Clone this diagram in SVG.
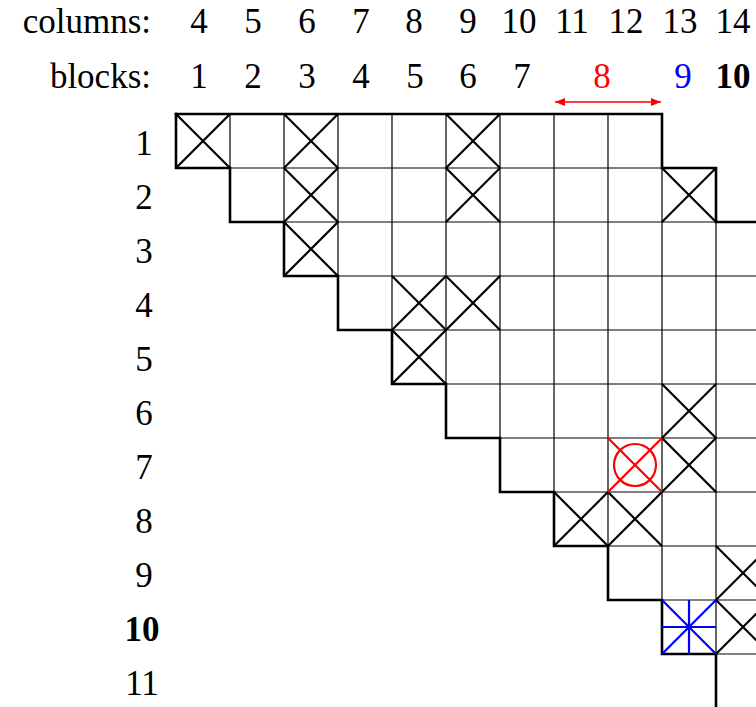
<svg xmlns="http://www.w3.org/2000/svg" width="756" height="707" viewBox="0 0 756 707">
<style>
text{font-family:"Liberation Serif","Times New Roman",serif;font-size:35px;fill:#000}
.m{text-anchor:middle}
.e{text-anchor:end}
.b{font-weight:bold}
.grid{fill:none;stroke:#000;stroke-width:1.2}
.bd{fill:none;stroke:#000;stroke-width:2.6;stroke-linejoin:miter;stroke-linecap:square}
.x{stroke:#000;stroke-width:2.2;fill:none}
</style>
<defs>
<path id="X" d="M0,0 L54,54 M54,0 L0,54"/>
<marker id="ah" viewBox="0 0 10 8" refX="10" refY="4" markerWidth="10" markerHeight="8" markerUnits="userSpaceOnUse" orient="auto-start-reverse">
<path d="M0,0 L10,4 L0,8 z" fill="#f00"/>
</marker>
</defs>
<g id="labels">
<text class="e" x="151" y="33">columns:</text>
<text class="m" x="199" y="33">4</text>
<text class="m" x="253" y="33">5</text>
<text class="m" x="307" y="33">6</text>
<text class="m" x="361" y="33">7</text>
<text class="m" x="414" y="33">8</text>
<text class="m" x="468" y="33">9</text>
<text class="m" x="519" y="33">10</text>
<text class="m" x="572" y="33">11</text>
<text class="m" x="626" y="33">12</text>
<text class="m" x="680" y="33">13</text>
<text class="m" x="733" y="33">14</text>
<text class="e" x="151" y="88">blocks:</text>
<text class="m" x="199" y="88">1</text>
<text class="m" x="253" y="88">2</text>
<text class="m" x="307" y="88">3</text>
<text class="m" x="361" y="88">4</text>
<text class="m" x="415" y="88">5</text>
<text class="m" x="468" y="88">6</text>
<text class="m" x="522" y="88">7</text>
<text class="m" x="602" y="88" fill="#f00" style="fill:#f00">8</text>
<text class="m" x="683" y="88" style="fill:#00f">9</text>
<text class="m b" x="733" y="88">10</text>
</g>
<g id="rowlabels">
<text class="m" x="144" y="155">1</text>
<text class="m" x="144" y="209">2</text>
<text class="m" x="144" y="263">3</text>
<text class="m" x="144" y="317">4</text>
<text class="m" x="144" y="371">5</text>
<text class="m" x="144" y="425">6</text>
<text class="m" x="144" y="479">7</text>
<text class="m" x="144" y="533">8</text>
<text class="m" x="144" y="587">9</text>
<text class="m b" x="142" y="641">10</text>
<text class="m" x="142" y="695">11</text>
</g>
<g id="matrix">
<path class="grid" d="M176,168H716 M230,222H756 M284,276H756 M338,330H756 M392,384H756 M446,438H756 M500,492H756 M554,546H756 M608,600H756 M662,654H756 M716,708H756
M230,114V222 M284,114V276 M338,114V330 M392,114V384 M446,114V438 M500,114V492 M554,114V546 M608,114V600 M662,114V654 M716,168V708"/>
<path class="bd" d="M176,114H662V168H716V222H758"/>
<path class="bd" d="M176,114V168H230V222H284V276H338V330H392V384H446V438H500V492H554V546H608V600H662V654H716V710"/>
</g>
<g id="marks" class="x">
<use href="#X" x="176" y="114"/>
<use href="#X" x="284" y="114"/>
<use href="#X" x="446" y="114"/>
<use href="#X" x="284" y="168"/>
<use href="#X" x="446" y="168"/>
<use href="#X" x="662" y="168"/>
<use href="#X" x="284" y="222"/>
<use href="#X" x="392" y="276"/>
<use href="#X" x="446" y="276"/>
<use href="#X" x="392" y="330"/>
<use href="#X" x="662" y="384"/>
<use href="#X" x="662" y="438"/>
<use href="#X" x="554" y="492"/>
<use href="#X" x="608" y="492"/>
<use href="#X" x="716" y="546"/>
<use href="#X" x="716" y="600"/>
</g>
<g id="red-mark" style="stroke:#f00;stroke-width:2.2;fill:none">
<path d="M608,438L662,492M662,438L608,492"/>
<circle cx="635" cy="465" r="21"/>
</g>
<g id="blue-mark" style="stroke:#00f;stroke-width:2.2;fill:none">
<path d="M662,600L716,654M716,600L662,654M689,600V654M662,627H716"/>
</g>
<g id="connectors">
<line x1="555" y1="102" x2="661" y2="102" stroke="#f00" stroke-width="1.6" marker-start="url(#ah)" marker-end="url(#ah)"/>
</g>
</svg>
